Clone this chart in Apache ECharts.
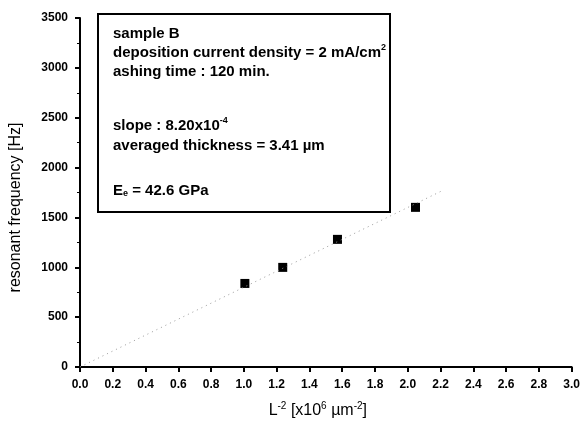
<!DOCTYPE html>
<html>
<head>
<meta charset="utf-8">
<script src="https://cdn.jsdelivr.net/npm/echarts@6/dist/echarts.min.js"></script>
<style>
html,body{margin:0;padding:0;background:#fff;}
#c{width:583px;height:429px;}
</style>
</head>
<body>
<div id="c"></div>
<script>
// Data
var xValues = [1.006, 1.237, 1.571, 2.047];
var yValues = [838, 999, 1280, 1601];
var fitX = [0, 2.2];
var fitY = [0, 1760];
var xTicks = ['0.0','0.2','0.4','0.6','0.8','1.0','1.2','1.4','1.6','1.8','2.0','2.2','2.4','2.6','2.8','3.0'];
var yTicks = [0, 500, 1000, 1500, 2000, 2500, 3000, 3500];
var boxLines = [
  '{b|sample B}',
  '{b|deposition current density = 2 mA/cm}{sup|2}',
  '{b|ashing time : 120 min.}',
  '{b|slope : 8.20x10}{sup|-4}',
  '{b|averaged thickness = 3.41 \u00b5m}',
  '{b|E}{sub|e}{b| = 42.6 GPa}'
];

var chart = echarts.init(document.getElementById('c'), null, {renderer: 'canvas'});
var FONT = 'Liberation Sans, Arial, sans-serif';

var points = xValues.map(function (x, i) { return [x, yValues[i]]; });
var fit = fitX.map(function (x, i) { return [x, fitY[i]]; });

var boxRich = {
  b: {fontFamily: FONT, fontWeight: 'bold', fontSize: 15, fill: '#000', lineHeight: 17, verticalAlign: 'bottom'},
  sup: {fontFamily: FONT, fontWeight: 'bold', fontSize: 9, fill: '#000', lineHeight: 9, verticalAlign: 'top'},
  sub: {fontFamily: FONT, fontWeight: 'bold', fontSize: 9, fill: '#000', lineHeight: 9, verticalAlign: 'bottom'}
};
var lineY = [33, 52, 71, 125, 145, 190];

var graphics = [
  {
    type: 'rect', left: 97, top: 13, z: 10,
    shape: {width: 292, height: 198},
    style: {fill: '#fff', stroke: '#000', lineWidth: 2}
  }
];
boxLines.forEach(function (t, i) {
  graphics.push({
    type: 'text', x: 113, y: lineY[i], z: 11,
    style: {text: t, fill: '#000', verticalAlign: 'middle', align: 'left', rich: boxRich}
  });
});

chart.setOption({
  animation: false,
  backgroundColor: '#fff',
  grid: {left: 80, right: 11, top: 18, bottom: 62},
  xAxis: {
    type: 'value', min: 0, max: 3.0, interval: 0.2,
    axisLine: {show: true, onZero: false, lineStyle: {color: '#000', width: 2}},
    axisTick: {show: true, inside: false, length: 5, lineStyle: {color: '#000', width: 2}},
    minorTick: {show: false},
    splitLine: {show: false},
    axisLabel: {
      color: '#000', fontFamily: FONT, fontWeight: 'bold', fontSize: 12, margin: 12,
      formatter: function (v) { return xTicks[Math.round(v / 0.2)]; }
    },
    name: '{n|L}{s|-2}{n| [x10}{s|6}{n| \u00b5m}{s|-2}{n|]}',
    nameLocation: 'middle', nameGap: 34,
    nameTextStyle: {
      color: '#000', fontFamily: FONT, fontSize: 16, padding: [0, 16, 0, 0],
      rich: {
        n: {fontFamily: FONT, fontSize: 16, color: '#000', verticalAlign: 'bottom', lineHeight: 18},
        s: {fontFamily: FONT, fontSize: 10, color: '#000', verticalAlign: 'top', lineHeight: 10}
      }
    }
  },
  yAxis: {
    type: 'value', min: 0, max: 3500, interval: 500,
    axisLine: {show: true, onZero: false, lineStyle: {color: '#000', width: 2}},
    axisTick: {show: true, inside: false, length: 5, lineStyle: {color: '#000', width: 2}},
    minorTick: {show: true, splitNumber: 2, length: 3, lineStyle: {color: '#000', width: 1}},
    splitLine: {show: false},
    axisLabel: {
      color: '#000', fontFamily: FONT, fontWeight: 'bold', fontSize: 12, margin: 12,
      formatter: function (v) { return String(yTicks[Math.round(v / 500)]); }
    },
    name: 'resonant frequency [Hz]',
    nameLocation: 'middle', nameGap: 56, nameRotate: 90,
    nameTextStyle: {color: '#000', fontFamily: FONT, fontSize: 16, padding: [0, 30, 0, 0]}
  },
  series: [
    {
      type: 'line', data: fit, symbol: 'none', silent: true,
      lineStyle: {color: '#999', width: 1, type: [1, 4]}
    },
    {
      type: 'scatter', data: points, symbol: 'rect', symbolSize: 9,
      itemStyle: {color: '#000', opacity: 1}
    }
  ],
  graphic: graphics
});
</script>
</body>
</html>
